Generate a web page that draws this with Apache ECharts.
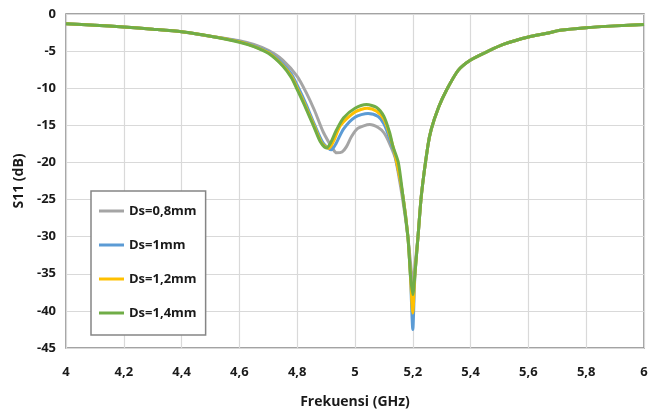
<!DOCTYPE html>
<html>
<head>
<meta charset="utf-8">
<script src="https://cdn.jsdelivr.net/npm/echarts@6/dist/echarts.min.js"></script>
<style>
  html, body { margin: 0; padding: 0; background: #fff; }
  #chart { width: 659px; height: 414px; }
</style>
</head>
<body>
<div id="chart"></div>
<script>
// Return loss S11 (dB) versus frequency (GHz) for four slot widths Ds.
const seriesNames = ['Ds=0,8mm', 'Ds=1mm', 'Ds=1,2mm', 'Ds=1,4mm'];
const seriesColors = ['#A5A5A5', '#5B9BD5', '#FFC000', '#70AD47'];

// Shared low-frequency part (all curves coincide)
const freqLow = [4.0, 4.1, 4.2, 4.3, 4.4, 4.5];
const s11Low  = [-1.3, -1.5, -1.75, -2.05, -2.4, -3.0];

// Shared high-frequency part above the 5.2 GHz resonance
const freqHigh = [5.218, 5.23, 5.252, 5.264, 5.29, 5.316, 5.357, 5.4, 5.461, 5.513, 5.6, 5.664, 5.71, 5.8, 5.9, 6.0];
const s11High  = [-30, -24.3, -17.8, -15.5, -12.5, -10.3, -7.6, -6.2, -5.0, -4.1, -3.1, -2.6, -2.2, -1.85, -1.6, -1.4];

// Ds = 0,8 mm
const freqDs08 = [4.6, 4.65, 4.7, 4.75, 4.8, 4.83, 4.86, 4.89, 4.924, 4.936, 4.955, 4.97, 4.988, 5.01, 5.051, 5.08, 5.1, 5.12, 5.14, 5.165, 5.183, 5.192, 5.2, 5.207];
const s11Ds08  = [-3.6, -4.1, -4.9, -6.2, -8.4, -10.5, -13.0, -15.9, -18.2, -18.7, -18.6, -17.9, -16.5, -15.4, -14.9, -15.3, -16.0, -17.5, -19.5, -25.0, -30.0, -33.5, -36.5, -34.0];

// Ds = 1 mm
const freqDs10 = [4.6, 4.65, 4.7, 4.75, 4.78, 4.8, 4.83, 4.86, 4.89, 4.918, 4.935, 4.96, 5.0, 5.045, 5.08, 5.1, 5.12, 5.14, 5.165, 5.183, 5.192, 5.2, 5.207];
const s11Ds10  = [-3.7, -4.3, -5.1, -6.7, -8.1, -9.6, -12.1, -14.9, -17.4, -18.3, -17.4, -15.5, -13.9, -13.4, -13.8, -14.8, -16.8, -19.3, -24.3, -30.0, -35.5, -42.5, -35.5];

// Ds = 1,2 mm
const freqDs12 = [4.6, 4.65, 4.7, 4.75, 4.78, 4.8, 4.83, 4.86, 4.885, 4.909, 4.925, 4.95, 5.0, 5.042, 5.075, 5.1, 5.12, 5.14, 5.165, 5.183, 5.192, 5.2, 5.207];
const s11Ds12  = [-3.75, -4.35, -5.2, -6.9, -8.4, -10.0, -12.5, -15.2, -17.4, -18.1, -17.2, -15.0, -13.2, -12.7, -13.1, -14.2, -16.3, -19.2, -24.3, -30.0, -35.3, -40.3, -35.3];

// Ds = 1,4 mm
const freqDs14 = [4.6, 4.65, 4.7, 4.75, 4.78, 4.8, 4.83, 4.86, 4.88, 4.901, 4.915, 4.935, 4.96, 5.0, 5.04, 5.075, 5.1, 5.12, 5.131, 5.15, 5.165, 5.183, 5.192, 5.2, 5.207];
const s11Ds14  = [-3.8, -4.4, -5.3, -7.0, -8.6, -10.2, -12.7, -15.4, -17.2, -18.05, -17.4, -15.7, -14.0, -12.7, -12.2, -12.6, -13.8, -16.0, -17.8, -20.0, -24.3, -30.0, -35.2, -37.8, -35.2];

// Axis ticks
const xMin = 4, xMax = 6, xStep = 0.2;
const yMin = -45, yMax = 0, yStep = 5;

function buildPairs(fMid, sMid) {
  const f = freqLow.concat(fMid, freqHigh);
  const s = s11Low.concat(sMid, s11High);
  return f.map((v, i) => [v, s[i]]);
}

const curveData = [
  buildPairs(freqDs08, s11Ds08),
  buildPairs(freqDs10, s11Ds10),
  buildPairs(freqDs12, s11Ds12),
  buildPairs(freqDs14, s11Ds14)
];

const FONT = 'Open Sans';
const chart = echarts.init(document.getElementById('chart'), null, { renderer: 'canvas' });

chart.setOption({
  animation: false,
  backgroundColor: '#ffffff',
  grid: {
    left: 66, right: 15, top: 14, bottom: 56.5,
    show: true, borderColor: '#858585', borderWidth: 1.5,
    backgroundColor: 'transparent'
  },
  legend: {
    orient: 'vertical',
    left: 91, top: 191,
    padding: [13, 9, 15, 8],
    itemGap: 20,
    icon: 'rect',
    itemWidth: 25, itemHeight: 3,
    backgroundColor: '#ffffff',
    borderColor: '#858585', borderWidth: 1.5, borderRadius: 0,
    textStyle: { fontFamily: FONT, fontWeight: 'bold', fontSize: 13, color: '#1a1a1a', lineHeight: 14 },
    data: seriesNames
  },
  xAxis: {
    type: 'value', min: xMin, max: xMax, interval: xStep,
    name: 'Frekuensi (GHz)', nameLocation: 'middle', nameGap: 47,
    nameTextStyle: { fontFamily: FONT, fontWeight: 'bold', fontSize: 14, color: '#1a1a1a' },
    axisLine: { show: false }, axisTick: { show: false },
    axisLabel: {
      fontFamily: FONT, fontWeight: 'bold', fontSize: 13, color: '#1a1a1a', margin: 18,
      formatter: v => String(Math.round(v * 10) / 10).replace('.', ',')
    },
    splitLine: { show: true, lineStyle: { color: '#d9d9d9', width: 1.2 } }
  },
  yAxis: {
    type: 'value', min: yMin, max: yMax, interval: yStep,
    name: 'S11 (dB)', nameLocation: 'middle', nameGap: 35, nameRotate: 90,
    nameTextStyle: { fontFamily: FONT, fontWeight: 'bold', fontSize: 14, color: '#1a1a1a' },
    axisLine: { show: false }, axisTick: { show: false },
    axisLabel: { fontFamily: FONT, fontWeight: 'bold', fontSize: 13, color: '#1a1a1a', margin: 10 },
    splitLine: { show: true, lineStyle: { color: '#d9d9d9', width: 1.2 } }
  },
  series: seriesNames.map((name, i) => ({
    name: name,
    type: 'line',
    data: curveData[i],
    symbol: 'none',
    smooth: 0.25,
    color: seriesColors[i],
    lineStyle: { color: seriesColors[i], width: 3 },
    z: 2 + i
  }))
});
</script>
</body>
</html>
